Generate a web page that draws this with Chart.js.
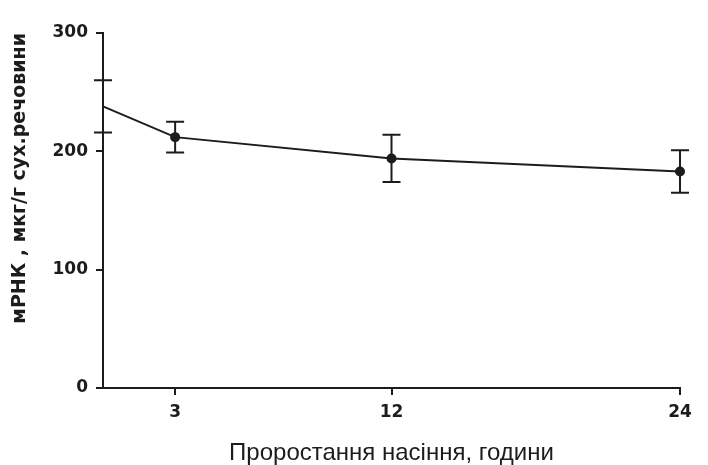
<!DOCTYPE html>
<html lang="uk">
<head>
<meta charset="utf-8">
<title>мРНК</title>
<script src="https://cdn.jsdelivr.net/npm/chart.js@4.4.0/dist/chart.umd.min.js"></script>
<style>
  html, body { margin: 0; padding: 0; background: #fff; }
  #grafico-wrap { width: 708px; height: 465px; position: relative; }
</style>
</head>
<body>
<div id="grafico-wrap"><canvas id="grafico"></canvas></div>
<script>
// дані
const hours = [0, 3, 12, 24];
const mrnaValues = [238, 212, 194, 183];
const mrnaErrors = [22, 13, 20, 18];
const xTickValues = [3, 12, 24];
const yTickValues = [0, 100, 200, 300];

const INK = '#1c1c1c';

// вуса похибок
const errorBarsPlugin = {
    id: 'errorBars',
    afterDatasetsDraw(chart) {
        const ctx = chart.ctx;
        const xScale = chart.scales.x;
        const yScale = chart.scales.y;
        ctx.save();
        ctx.strokeStyle = INK;
        ctx.lineWidth = 2;
        hours.forEach((h, i) => {
            const x = xScale.getPixelForValue(h);
            const top = yScale.getPixelForValue(mrnaValues[i] + mrnaErrors[i]);
            const bottom = yScale.getPixelForValue(mrnaValues[i] - mrnaErrors[i]);
            ctx.beginPath();
            ctx.moveTo(x, top);
            ctx.lineTo(x, bottom);
            ctx.moveTo(x - 9, top);
            ctx.lineTo(x + 9, top);
            ctx.moveTo(x - 9, bottom);
            ctx.lineTo(x + 9, bottom);
            ctx.stroke();
        });
        ctx.restore();
    }
};

function axisGrid() {
    return {
        display: true,
        drawOnChartArea: false,
        drawTicks: true,
        tickLength: 7,
        color: INK,
        lineWidth: 2
    };
}

const tickFont = { family: 'DejaVu Sans', size: 17, weight: 'bold' };

const ctx = document.getElementById('grafico');
new Chart(ctx, {
    type: 'line',
    data: {
        datasets: [{
            data: hours.map((h, i) => ({ x: h, y: mrnaValues[i] })),
            borderColor: INK,
            borderWidth: 2,
            backgroundColor: INK,
            pointRadius: [0, 5, 5, 5],
            pointBorderWidth: 0,
            tension: 0,
            clip: false
        }]
    },
    options: {
        responsive: true,
        maintainAspectRatio: false,
        animation: false,
        layout: {
            padding: { top: 33, right: 28, left: 0, bottom: 0 }
        },
        plugins: {
            legend: { display: false },
            tooltip: { enabled: false }
        },
        scales: {
            x: {
                type: 'linear',
                min: 0,
                max: 24,
                afterBuildTicks: scale => {
                    scale.ticks = xTickValues.map(v => ({ value: v }));
                },
                afterFit: scale => {
                    scale.height = 77;
                },
                grid: axisGrid(),
                border: { color: INK, width: 2 },
                ticks: {
                    color: INK,
                    font: tickFont,
                    padding: 7,
                    maxRotation: 0
                },
                title: {
                    display: true,
                    text: 'Проростання насіння, години',
                    color: INK,
                    font: { family: 'Liberation Sans', size: 24, lineHeight: 1.0 },
                    padding: { top: 0, bottom: 0 }
                }
            },
            y: {
                min: 0,
                max: 300,
                afterBuildTicks: scale => {
                    scale.ticks = yTickValues.map(v => ({ value: v }));
                },
                afterFit: scale => {
                    scale.width = 103;
                },
                grid: axisGrid(),
                border: { color: INK, width: 2 },
                ticks: {
                    color: INK,
                    font: tickFont,
                    padding: 8
                },
                title: {
                    display: true,
                    text: 'мРНК , мкг/г сух.речовини',
                    align: 'end',
                    color: INK,
                    font: { family: 'DejaVu Sans', size: 19, weight: 'bold' },
                    padding: { top: 9, bottom: 0 }
                }
            }
        }
    },
    plugins: [errorBarsPlugin]
});
</script>
</body>
</html>
